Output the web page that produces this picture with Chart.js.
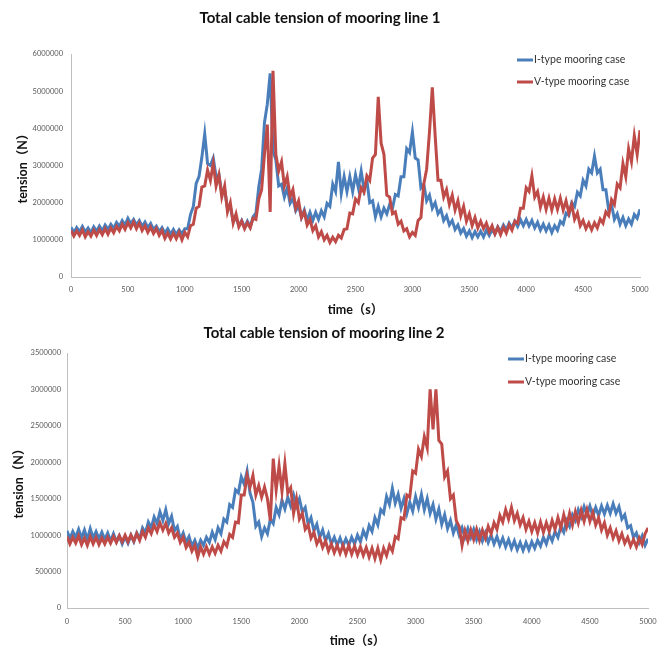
<!DOCTYPE html>
<html>
<head>
<meta charset="utf-8">
<script src="https://cdn.jsdelivr.net/npm/chart.js@4.4.1/dist/chart.umd.min.js"></script>
<style>
  body { margin: 0; background: #fff; }
  .wrap { width: 666px; }
</style>
</head>
<body>
<div class="wrap"><canvas id="chartLine1" width="666" height="322"></canvas></div>
<div class="wrap"><canvas id="chartLine2" width="666" height="326"></canvas></div>
<script>
// mintavétel: 25 s lépésenként, 0 ... 5000 s
const timeStep = 25;
const times = Array.from({ length: 201 }, (_, i) => i * timeStep);

const xTicks = ['0', '500', '1000', '1500', '2000', '2500', '3000', '3500', '4000', '4500', '5000'];
const yTicks1 = ['0', '1000000', '2000000', '3000000', '4000000', '5000000', '6000000'];
const yTicks2 = ['0', '500000', '1000000', '1500000', '2000000', '2500000', '3000000', '3500000'];

const seriesNames = ['I-type mooring case', 'V-type mooring case'];

// kötélerő, MN-ban (a tengely N-ban van feliratozva)
const line1IType = [
  1.34,1.20,1.33,1.22,1.36,1.21,1.32,1.19,1.35,1.23,1.37,1.24,1.40,
  1.28,1.42,1.31,1.47,1.36,1.52,1.40,1.58,1.43,1.55,1.40,1.52,
  1.36,1.48,1.33,1.44,1.28,1.37,1.22,1.33,1.18,1.30,1.15,1.28,1.14,1.27,1.16,1.30,
  1.30,1.68,1.90,2.52,2.70,3.22,3.85,3.05,
  3.00,3.20,2.70,2.75,2.25,2.35,1.85,1.90,1.50,1.60,1.38,1.52,
  1.33,1.50,1.35,1.62,1.72,2.42,2.90,4.15,4.65,5.48,3.40,3.15,
  2.45,2.50,2.15,2.40,1.98,2.12,1.78,1.92,1.60,1.80,1.52,1.74,
  1.52,1.74,1.55,1.78,1.62,1.98,1.90,2.50,2.30,3.10,2.25,2.70,
  2.30,2.70,2.30,2.75,2.40,2.85,2.35,2.60,2.00,2.05,1.62,1.90,
  1.62,1.85,1.70,1.95,1.85,2.22,2.18,2.70,2.70,3.45,3.35,3.90,
  3.20,3.15,2.40,2.50,2.05,2.20,1.85,2.00,1.70,1.82,1.52,1.65,
  1.40,1.52,1.28,1.40,1.18,1.30,1.10,1.24,1.06,1.22,1.08,1.23,
  1.08,1.26,1.12,1.28,1.16,1.35,1.22,1.40,1.27,1.45,1.32,1.50,
  1.36,1.54,1.38,1.55,1.37,1.52,1.32,1.47,1.26,1.42,1.24,1.40,
  1.20,1.38,1.26,1.50,1.42,1.72,1.66,2.00,1.90,2.28,2.18,2.60,
  2.45,2.90,2.80,3.25,2.80,2.90,2.35,2.35,1.80,1.95,1.55,1.70,
  1.42,1.60,1.38,1.56,1.42,1.68,1.58,1.82
];
const line1VType = [
  1.25,1.10,1.24,1.12,1.27,1.08,1.22,1.10,1.26,1.12,1.28,1.14,1.30,
  1.15,1.32,1.19,1.36,1.24,1.42,1.28,1.46,1.32,1.48,1.30,1.45,
  1.25,1.38,1.20,1.34,1.17,1.30,1.12,1.25,1.04,1.18,1.02,1.18,1.03,1.20,1.00,1.20,
  1.08,1.38,1.42,1.85,1.90,2.42,2.45,2.88,
  2.60,3.05,2.45,2.75,2.15,2.45,1.75,2.00,1.45,1.70,1.35,1.50,
  1.30,1.46,1.32,1.58,1.55,2.10,2.35,3.30,4.10,1.75,5.55,3.30,
  2.85,3.10,2.45,2.70,2.15,2.35,1.85,2.05,1.60,1.75,1.40,1.55,
  1.25,1.38,1.08,1.22,1.00,1.12,0.93,1.07,0.95,1.12,1.05,1.28,
  1.30,1.72,1.70,2.10,2.00,2.40,2.28,2.72,2.60,3.20,3.30,4.85,
  3.60,3.30,2.20,2.15,1.70,1.75,1.42,1.50,1.24,1.30,1.08,1.20,
  1.12,1.52,1.60,2.50,2.90,3.90,5.10,3.80,2.60,2.60,2.15,2.35,
  1.95,2.20,1.80,2.05,1.65,1.90,1.50,1.70,1.38,1.60,1.32,1.50,
  1.30,1.45,1.22,1.38,1.16,1.33,1.14,1.34,1.18,1.40,1.26,1.50,
  1.45,1.85,1.85,2.40,2.30,2.72,2.15,2.30,1.88,2.15,1.82,2.12,
  1.80,2.10,1.82,2.12,1.80,2.05,1.72,1.95,1.55,1.72,1.38,1.52,
  1.30,1.45,1.27,1.46,1.32,1.56,1.45,1.75,1.65,2.08,1.95,2.50,
  2.40,3.05,2.70,3.45,3.10,3.80,3.30,3.95
];
const line2IType = [
  1.06,0.95,1.05,0.97,1.08,0.96,1.07,0.94,1.09,0.96,1.05,0.95,1.04,
  0.94,1.03,0.92,1.02,0.91,0.99,0.88,0.98,0.89,1.00,0.91,1.03,
  0.95,1.10,1.03,1.18,1.10,1.25,1.16,1.32,1.20,1.35,1.16,1.26,1.06,1.12,0.94,1.03,
  0.90,0.98,0.85,0.93,0.82,0.93,0.86,0.97,
  0.90,1.04,0.94,1.10,1.02,1.22,1.18,1.42,1.38,1.62,1.58,1.80,
  1.70,1.88,1.58,1.45,1.12,1.18,0.98,1.10,1.02,1.22,1.16,1.38,
  1.28,1.48,1.36,1.52,1.40,1.55,1.40,1.50,1.32,1.38,1.15,1.24,
  1.06,1.15,0.97,1.07,0.92,1.02,0.88,0.97,0.86,0.96,0.85,0.95,
  0.86,0.97,0.88,1.00,0.91,1.06,0.97,1.13,1.05,1.24,1.14,1.35,
  1.30,1.53,1.42,1.64,1.44,1.56,1.37,1.50,1.30,1.45,1.33,1.53,
  1.38,1.56,1.35,1.50,1.30,1.42,1.22,1.36,1.15,1.28,1.09,1.20,
  1.03,1.14,1.00,1.10,0.97,1.09,0.97,1.08,0.94,1.05,0.92,1.03,
  0.90,1.00,0.88,0.98,0.86,0.96,0.84,0.94,0.82,0.92,0.80,0.90,
  0.79,0.90,0.80,0.91,0.82,0.93,0.85,0.97,0.88,1.01,0.92,1.05,
  0.97,1.12,1.04,1.20,1.12,1.28,1.20,1.35,1.25,1.39,1.28,1.40,
  1.26,1.38,1.27,1.40,1.29,1.41,1.30,1.43,1.30,1.39,1.22,1.28,
  1.10,1.13,0.97,1.03,0.90,0.99,0.86,0.95
];
const line2VType = [
  0.98,0.88,0.97,0.89,0.99,0.87,0.96,0.86,0.98,0.88,0.97,0.87,0.96,
  0.88,0.97,0.89,0.98,0.90,0.99,0.91,1.00,0.91,1.00,0.92,1.02,
  0.93,1.05,0.97,1.10,1.02,1.14,1.05,1.17,1.07,1.16,1.03,1.10,0.97,1.03,0.90,0.97,
  0.83,0.90,0.78,0.86,0.70,0.84,0.74,0.84,
  0.74,0.84,0.75,0.86,0.78,0.91,0.85,1.01,0.97,1.18,1.17,1.55,
  1.55,1.82,1.66,1.82,1.55,1.68,1.52,1.66,1.50,1.20,2.05,1.62,
  1.95,1.60,1.98,1.58,1.65,1.30,1.50,1.22,1.30,1.08,1.14,0.96,
  1.04,0.88,0.96,0.83,0.92,0.78,0.88,0.76,0.86,0.75,0.86,0.74,
  0.86,0.74,0.85,0.73,0.84,0.72,0.83,0.70,0.82,0.68,0.82,0.66,
  0.82,0.72,0.86,0.78,0.98,0.95,1.24,1.22,1.55,1.52,1.88,1.85,
  2.18,2.08,2.35,2.20,3.00,2.45,3.00,2.30,2.25,1.80,1.88,1.50,
  1.55,1.20,1.12,0.86,1.06,0.92,1.07,0.94,1.08,0.93,1.07,0.96,
  1.12,1.02,1.17,1.08,1.27,1.18,1.35,1.22,1.38,1.20,1.30,1.14,
  1.24,1.08,1.19,1.05,1.17,1.03,1.18,1.04,1.17,1.05,1.20,1.08,
  1.24,1.10,1.28,1.12,1.30,1.14,1.32,1.17,1.34,1.19,1.35,1.19,
  1.31,1.14,1.24,1.07,1.17,1.00,1.10,0.96,1.06,0.92,1.02,0.89,
  0.97,0.85,0.94,0.84,0.96,0.87,1.02,1.10
];

const blue = '#4A7EBB';
const red = '#BE4B48';
const fontFamily = 'Lato, "Noto Sans CJK SC", sans-serif';

// jelmagyarázat a rajzterületen belül, jobb felső sarokban
const insideLegend = {
  id: 'insideLegend',
  afterDraw(chart, args, opts) {
    const { ctx, chartArea } = chart;
    ctx.save();
    ctx.font = '10.5px ' + fontFamily;
    ctx.textBaseline = 'middle';
    chart.data.datasets.forEach((ds, i) => {
      const x = chartArea.right - opts.right;
      const y = chartArea.top + opts.top + i * opts.gap;
      ctx.strokeStyle = ds.borderColor;
      ctx.lineWidth = 3;
      ctx.beginPath();
      ctx.moveTo(x, y);
      ctx.lineTo(x + 16, y);
      ctx.stroke();
      ctx.fillStyle = '#333';
      ctx.fillText(ds.label, x + 17, y);
    });
    ctx.restore();
  }
};

function toPoints(values) {
  return values.map((v, i) => ({ x: times[i], y: v }));
}

function makeChart(id, s) {
  const ctx = document.getElementById(id).getContext('2d');
  return new Chart(ctx, {
    type: 'line',
    data: {
      datasets: [
        { label: seriesNames[0], data: toPoints(s.iType), borderColor: blue, borderWidth: 3, order: 1 },
        { label: seriesNames[1], data: toPoints(s.vType), borderColor: red, borderWidth: 3, order: 0 }
      ]
    },
    options: {
      responsive: false,
      animation: false,
      layout: { padding: { left: 0, right: s.padRight, top: 0, bottom: 0 } },
      elements: { point: { radius: 0 }, line: { tension: 0, borderJoinStyle: 'miter' } },
      plugins: {
        legend: { display: false },
        tooltip: { enabled: false },
        title: {
          display: true,
          text: s.title,
          color: '#111',
          font: { family: fontFamily, size: 15, weight: 'bold' },
          padding: s.titlePad
        },
        insideLegend: s.legend
      },
      scales: {
        x: {
          type: 'linear',
          min: 0,
          max: 5000,
          afterFit: sc => { sc.height = s.xHeight; },
          grid: { display: false, drawTicks: false },
          border: { display: true, color: '#BFBFBF' },
          ticks: {
            stepSize: 500,
            padding: s.xTickPad,
            maxRotation: 0,
            color: '#595959',
            font: { family: fontFamily, size: 7.5 },
            callback: (v, i) => xTicks[i]
          },
          title: {
            display: true,
            text: 'time（s）',
            color: '#111',
            font: { family: fontFamily, size: 12.5, weight: 'bold' },
            padding: { top: 0, bottom: s.xTitlePad }
          }
        },
        y: {
          min: 0,
          max: s.yMax,
          afterFit: sc => { sc.width = s.yWidth; },
          grid: { display: false, drawTicks: false },
          border: { display: true, color: '#BFBFBF' },
          ticks: {
            stepSize: s.yStep,
            padding: s.yTickPad,
            color: '#595959',
            font: { family: fontFamily, size: 7.5 },
            callback: (v, i) => s.yTicks[i]
          },
          title: {
            display: true,
            text: 'tension（N）',
            color: '#111',
            font: { family: fontFamily, size: 12.5, weight: 'bold' },
            padding: { top: s.yTitlePad, bottom: 0 }
          }
        }
      }
    },
    plugins: [insideLegend]
  });
}

makeChart('chartLine1', {
  title: 'Total cable tension of mooring line 1',
  iType: line1IType, vType: line1VType,
  yMax: 6, yStep: 1, yTicks: yTicks1,
  padRight: 26, titlePad: { top: 9, bottom: 27 },
  xHeight: 45, xTickPad: 8, xTitlePad: 5,
  yWidth: 71, yTickPad: 8, yTitlePad: 15,
  legend: { right: 123, top: 6, gap: 22 }
});

makeChart('chartLine2', {
  title: 'Total cable tension of mooring line 2',
  iType: line2IType, vType: line2VType,
  yMax: 3.5, yStep: 0.5, yTicks: yTicks2,
  padRight: 18, titlePad: { top: 2, bottom: 11 },
  xHeight: 40, xTickPad: 9, xTitlePad: 0,
  yWidth: 67, yTickPad: 6, yTitlePad: 11,
  legend: { right: 140, top: 6, gap: 23 }
});
</script>
</body>
</html>
